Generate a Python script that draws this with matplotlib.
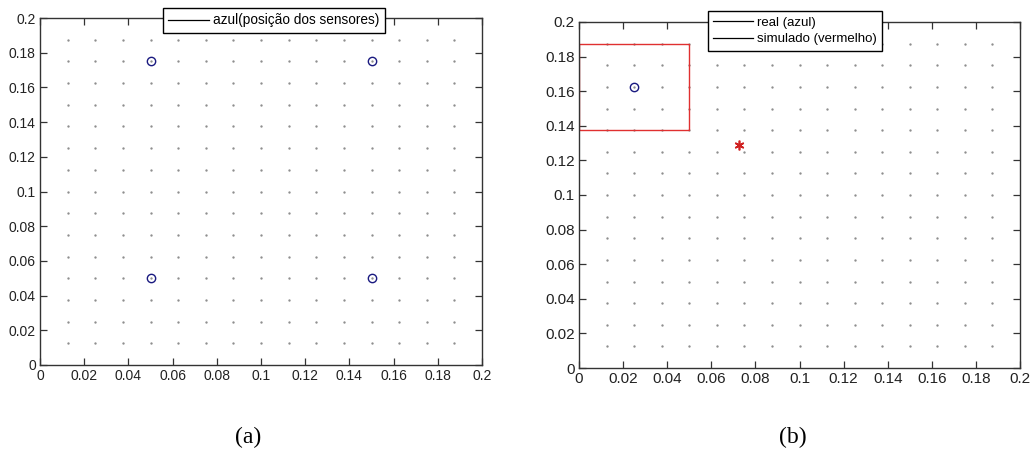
import numpy as np
import matplotlib.pyplot as plt
from matplotlib.lines import Line2D
from matplotlib.patches import Rectangle
from matplotlib.ticker import FuncFormatter

# grid of points (spacing 0.0125)
grid_vals = [0.0125, 0.025, 0.0375, 0.05, 0.0625, 0.075, 0.0875, 0.1,
             0.1125, 0.125, 0.1375, 0.15, 0.1625, 0.175, 0.1875]

# (a) sensor positions
sens_x = [0.05, 0.15, 0.05, 0.15]
sens_y = [0.175, 0.175, 0.05, 0.05]

# (b) real (blue) and simulated (red) positions
real_x = [0.025]
real_y = [0.1625]
sim_x = [0.0725]
sim_y = [0.129]
# search region (x0, y0, width, height)
region = [0.0, 0.1375, 0.05, 0.05]

ticks = [0, 0.02, 0.04, 0.06, 0.08, 0.1, 0.12, 0.14, 0.16, 0.18, 0.2]

W, H = 1032, 454
fig = plt.figure(figsize=(W / 100, H / 100), dpi=100)
plt.rcParams['font.family'] = ['Liberation Sans', 'DejaVu Sans']


def px_axes(x0, y0, x1, y1):
    return fig.add_axes([x0 / W, 1 - y1 / H, (x1 - x0) / W, (y1 - y0) / H])


def style(ax, fs):
    gx, gy = np.meshgrid(grid_vals, grid_vals)
    ax.plot(gx.ravel(), gy.ravel(), '.', color='#8c8c8c', markersize=1.4, zorder=1)
    ax.set_xlim(0, 0.2)
    ax.set_ylim(0, 0.2)
    ax.set_xticks(ticks)
    ax.set_yticks(ticks)
    fmt = FuncFormatter(lambda v, p: '%g' % round(v, 4))
    ax.xaxis.set_major_formatter(fmt)
    ax.yaxis.set_major_formatter(fmt)
    ax.tick_params(direction='in', length=5, width=0.9, top=True, right=True,
                   labelsize=fs, colors='#333333', labelcolor='#222222', pad=3)
    for s in ax.spines.values():
        s.set_color('#333333')
        s.set_linewidth(1.0)


# panel (a)
ax1 = px_axes(40, 18, 482, 365)
style(ax1, 10)
ax1.plot(sens_x, sens_y, 'o', mfc='none', mec='#1a1a80', markersize=6, mew=1.0, zorder=3)
h1 = [Line2D([], [], color='k', lw=0.9)]
ax1.legend(h1, ['azul(posição dos sensores)'], loc='upper left',
           bbox_to_anchor=(163 / W, 1 - 8 / H), bbox_transform=fig.transFigure,
           fancybox=False, edgecolor='k', framealpha=1, fontsize=9.8,
           handlelength=3.0, handletextpad=0.3, borderpad=0.4, borderaxespad=0)

# panel (b)
ax2 = px_axes(579, 22, 1020, 368)
style(ax2, 11)
ax2.add_patch(Rectangle((region[0], region[1]), region[2], region[3],
                        fill=False, edgecolor='#e03030', lw=1.0, zorder=2))
ax2.plot(real_x, real_y, 'o', mfc='none', mec='#1a1a80', markersize=6, mew=1.0, zorder=3)
ax2.plot(sim_x, sim_y, marker=(6, 2, 0), color='#d02020', markersize=7, mew=1.2,
         linestyle='none', zorder=3)
h2 = [Line2D([], [], color='k', lw=0.9), Line2D([], [], color='k', lw=0.9)]
ax2.legend(h2, ['real (azul)', 'simulado (vermelho)'], loc='upper left',
           bbox_to_anchor=(708 / W, 1 - 11 / H), bbox_transform=fig.transFigure,
           fancybox=False, edgecolor='k', framealpha=1, fontsize=9.5,
           handlelength=3.0, handletextpad=0.3, borderpad=0.4, borderaxespad=0,
           labelspacing=0.35)

# captions
fig.text(248 / W, 1 - 437 / H, '(a)', ha='center', va='center', fontsize=17,
         family=['Liberation Serif', 'DejaVu Serif'])
fig.text(793 / W, 1 - 437 / H, '(b)', ha='center', va='center', fontsize=17,
         family=['Liberation Serif', 'DejaVu Serif'])

fig.savefig('out.png', dpi=100, facecolor='white')
